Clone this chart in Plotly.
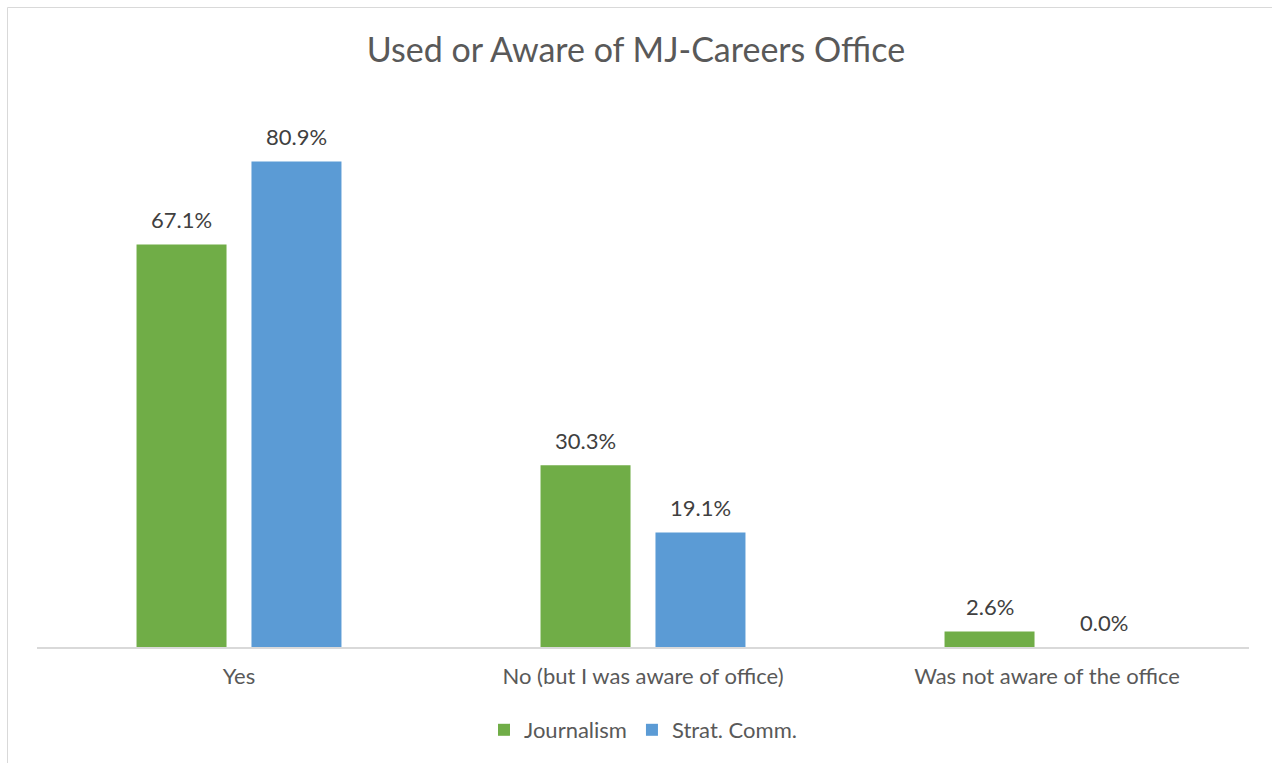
import plotly.graph_objects as go

categories = ["Yes", "No (but I was aware of office)", "Was not aware of the office"]
journalism = [67.1, 30.3, 2.6]
stratcomm = [80.9, 19.1, 0.0]
series_names = ["Journalism", "Strat. Comm."]
colors = ["#70AD47", "#5B9BD5"]
title_text = "Used or Aware of MJ-Careers Office"

FONT = "Lato, Open Sans, sans-serif"
W, H = 1272, 763
L, R, T, B = 37, 23, 107, 116
plot_w = W - L - R
plot_h = H - T - B

fig = go.Figure()
for name, vals, col in zip(series_names, [journalism, stratcomm], colors):
    fig.add_trace(go.Bar(x=categories, y=vals, name=name, marker=dict(color=col, line=dict(width=0))))

# data labels via annotations
slot_px = plot_w / 3 * (1 - 0.431) / 2
for i, vals in enumerate([journalism, stratcomm]):
    off = (-0.5 if i == 0 else 0.5) * slot_px
    for c, v in zip(categories, vals):
        fig.add_annotation(x=c, y=v, text=f"{v:.1f}%", showarrow=False, xshift=off, yshift=25,
                           yanchor="middle", font=dict(family=FONT, size=22, color="#404040"))

# chart frame
fig.add_shape(type="rect", xref="paper", yref="paper",
              x0=(7.5 - L) / plot_w, x1=(W + 10 - L) / plot_w,
              y0=(-(B + 10)) / plot_h, y1=(H - B - 7.5) / plot_h,
              line=dict(color="#D9D9D9", width=1), layer="below")

fig.update_layout(
    width=W, height=H,
    margin=dict(l=L, r=R, t=T, b=B),
    paper_bgcolor="white", plot_bgcolor="white",
    title=dict(text=title_text, x=0.5, xanchor="center", y=1 - 50 / H, yanchor="middle",
               font=dict(family=FONT, size=34, color="#595959")),
    barmode="group", bargap=0.431, bargroupgap=0.217,
    showlegend=True,
    legend=dict(orientation="h", x=0.5, xanchor="center", y=-(730 - (H - B)) / plot_h, yanchor="middle",
                font=dict(family=FONT, size=22, color="#595959"), itemwidth=30, traceorder="normal"),
    xaxis=dict(showline=True, linecolor="#D9D9D9", linewidth=2, ticks="", showgrid=False,
               tickfont=dict(family=FONT, size=22, color="#595959"), ticklabelstandoff=9),
    yaxis=dict(range=[0, 90], visible=False, showgrid=False, zeroline=False),
)

fig.write_html("out.html", config={"displayModeBar": False},
               post_script="document.body.style.margin='0';document.body.style.overflow='hidden';")
